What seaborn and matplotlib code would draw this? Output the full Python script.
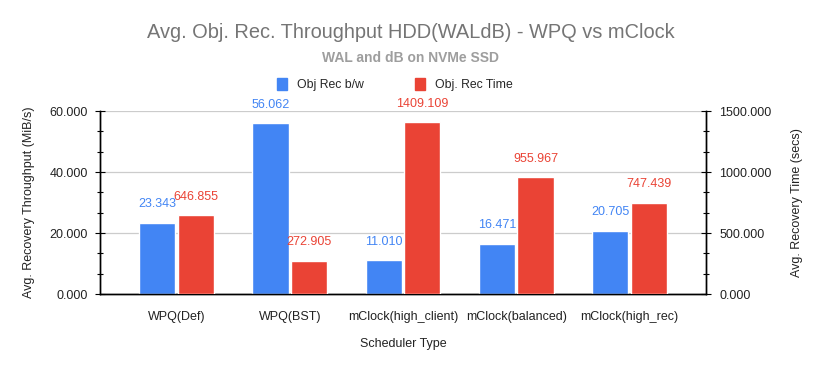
import matplotlib
matplotlib.use("Agg")
import matplotlib.pyplot as plt
from matplotlib.patches import Patch
from matplotlib.ticker import AutoMinorLocator, FormatStrFormatter
import pandas as pd
import seaborn as sns

# data
schedulers = ["WPQ(Def)", "WPQ(BST)", "mClock(high_client)", "mClock(balanced)", "mClock(high_rec)"]
obj_rec_bw = [23.343, 56.062, 11.010, 16.471, 20.705]
obj_rec_time = [646.855, 272.905, 1409.109, 955.967, 747.439]
series = ["Obj Rec b/w", "Obj. Rec Time"]

BLUE = "#4285F4"
RED = "#EA4335"
palette = {series[0]: BLUE, series[1]: RED}

sns.set_style("white")
plt.rcParams["font.family"] = ["Liberation Sans", "DejaVu Sans"]

df_bw = pd.DataFrame({"sched": schedulers, "val": obj_rec_bw, "series": series[0]})
df_time = pd.DataFrame({"sched": schedulers, "val": obj_rec_time, "series": series[1]})

fig = plt.figure(figsize=(8.21, 3.71), dpi=100)
ax1 = fig.add_axes([0.1218, 0.2075, 0.7381, 0.4933])
ax2 = ax1.twinx()

sns.barplot(data=df_bw, x="sched", y="val", hue="series", hue_order=series,
            palette=palette, width=0.68, gap=0.06, dodge=True, legend=False,
            saturation=1, ax=ax1, zorder=3)
sns.barplot(data=df_time, x="sched", y="val", hue="series", hue_order=series,
            palette=palette, width=0.68, gap=0.06, dodge=True, legend=False,
            saturation=1, ax=ax2, zorder=3)

# data labels above bars
for ax, col in [(ax1, BLUE), (ax2, RED)]:
    for cont in ax.containers:
        if len(cont) > 0:
            ax.bar_label(cont, fmt="%.3f", padding=9, color=col, fontsize=9)

ax1.set_xlim(-0.675, 4.675)
ax1.set_ylim(0, 60)
ax2.set_ylim(0, 1500)
ax1.set_yticks([0, 20, 40, 60])
ax2.set_yticks([0, 500, 1000, 1500])
ax1.yaxis.set_major_formatter(FormatStrFormatter("%.3f"))
ax2.yaxis.set_major_formatter(FormatStrFormatter("%.3f"))
ax1.yaxis.set_minor_locator(AutoMinorLocator(3))
ax2.yaxis.set_minor_locator(AutoMinorLocator(3))

ax1.grid(axis="y", which="major", color="#cccccc", linewidth=0.9, zorder=0)
ax1.set_axisbelow(True)
ax2.grid(False)

for ax in (ax1, ax2):
    ax.spines["top"].set_visible(False)
    for s in ("left", "right", "bottom"):
        ax.spines[s].set_color("black")
        ax.spines[s].set_linewidth(1.0)
    ax.tick_params(axis="y", which="major", direction="inout", length=7.2,
                   width=0.8, color="black", labelsize=9, labelcolor="#222222")
    ax.tick_params(axis="y", which="minor", direction="inout", length=4.3,
                   width=0.8, color="black")
    ax.tick_params(axis="x", direction="out", length=5, width=0.8,
                   color="black", labelsize=9, labelcolor="#222222", pad=7)

ax1.tick_params(axis="y", which="major", pad=5)
ax2.tick_params(axis="y", which="major", pad=6)

ax1.set_xlabel("Scheduler Type", fontsize=9, color="#222222")
ax1.xaxis.set_label_coords(0.5, -0.24)
ax2.set_xlabel("")
ax1.set_ylabel("Avg. Recovery Throughput (MiB/s)", fontsize=9, color="#222222")
ax1.yaxis.set_label_coords(-0.108, 0.5)
ax2.set_ylabel("Avg. Recovery Time (secs)", fontsize=9, color="#222222")
ax2.yaxis.set_label_coords(1.14, 0.5)

fig.text(0.5, 0.9137, "Avg. Obj. Rec. Throughput HDD(WALdB) - WPQ vs mClock",
         ha="center", va="center", fontsize=14.4, color="#757575")
fig.text(0.5, 0.8437, "WAL and dB on NVMe SSD", ha="center", va="center",
         fontsize=10, fontweight="bold", color="#9e9e9e")

handles = [Patch(facecolor=BLUE, edgecolor=BLUE), Patch(facecolor=RED, edgecolor=RED)]
fig.legend(handles, series, loc="center", bbox_to_anchor=(0.481, 0.771), ncol=2,
           frameon=False, fontsize=8.8, handlelength=0.8, handleheight=1.1,
           columnspacing=4.2, handletextpad=0.8)

fig.savefig("out.png", dpi=100)
